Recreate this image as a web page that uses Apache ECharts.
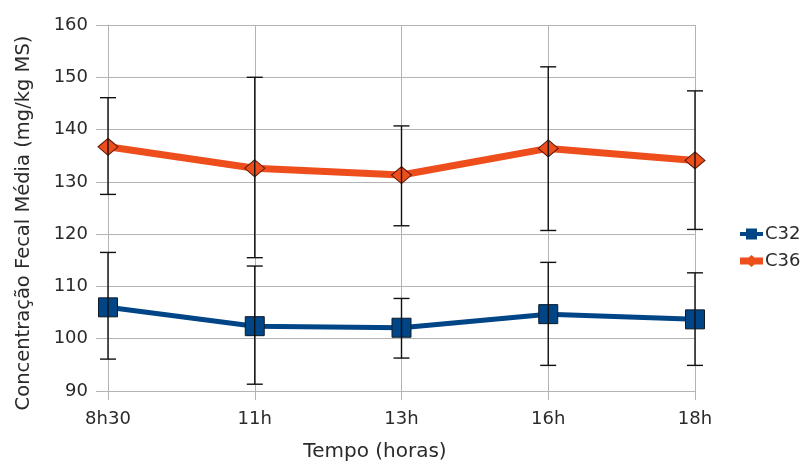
<!DOCTYPE html>
<html>
<head>
<meta charset="utf-8">
<script src="https://cdn.jsdelivr.net/npm/echarts@6/dist/echarts.min.js"></script>
<style>
html,body{margin:0;padding:0;background:#fff;}
#chart{width:803px;height:468px;}
</style>
</head>
<body>
<div id="chart"></div>
<script>
const categories = ['8h30', '11h', '13h', '16h', '18h'];
const yTicks = { min: 90, max: 160, interval: 10 };
const c32 = [106.0, 102.4, 102.1, 104.7, 103.7];
const c32Low = [96.1, 91.3, 96.3, 94.9, 94.9];
const c32High = [116.5, 113.9, 107.7, 114.6, 112.6];
const c36 = [136.7, 132.6, 131.3, 136.4, 134.1];
const c36Low = [127.6, 115.5, 121.6, 120.7, 120.9];
const c36High = [146.1, 150.0, 140.7, 152.0, 147.4];

const FONT = 'DejaVu Sans';
const GRID = '#b3b3b3';
const TXT = '#2a2a2a';
const BLUE = '#004586';
const ORANGE = '#ee4d1c';

function errData(lo, hi) { return categories.map((c, i) => [i, lo[i], hi[i]]); }
function renderErr(params, api) {
  const x = api.value(0);
  const lo = api.coord([x, api.value(1)]);
  const hi = api.coord([x, api.value(2)]);
  const w = 8;
  const st = { stroke: '#111', lineWidth: 1.4 };
  return {
    type: 'group',
    children: [
      { type: 'line', shape: { x1: lo[0], y1: lo[1], x2: hi[0], y2: hi[1] }, style: st },
      { type: 'line', shape: { x1: hi[0] - w, y1: hi[1], x2: hi[0] + w, y2: hi[1] }, style: st },
      { type: 'line', shape: { x1: lo[0] - w, y1: lo[1], x2: lo[0] + w, y2: lo[1] }, style: st }
    ]
  };
}

const iconC32 = 'path://M0,4L23,4L23,8L0,8Z M6,0.5L17,0.5L17,11.5L6,11.5Z';
const iconC36 = 'path://M0,2.5L23,2.5L23,9.5L0,9.5Z M11.5,0L18.5,6L11.5,12L4.5,6Z';

const chart = echarts.init(document.getElementById('chart'), null, { renderer: 'canvas' });
chart.setOption({
  animation: false,
  backgroundColor: '#fff',
  grid: { left: 108, right: 108, top: 25, bottom: 77 },
  legend: {
    orient: 'vertical',
    left: 735,
    top: 219,
    itemWidth: 23,
    itemHeight: 12,
    itemGap: 7,
    data: [
      { name: 'C32', icon: iconC32, itemStyle: { color: BLUE, borderWidth: 0 } },
      { name: 'C36', icon: iconC36, itemStyle: { color: ORANGE, borderWidth: 0 } }
    ],
    textStyle: { fontFamily: FONT, fontSize: 18, color: TXT, lineHeight: 20, padding: [0, 0, 0, -3] }
  },
  xAxis: {
    type: 'category',
    data: categories,
    boundaryGap: false,
    axisLine: { lineStyle: { color: GRID, width: 1 } },
    axisTick: { show: true, length: 9, lineStyle: { color: GRID } },
    axisLabel: { fontFamily: FONT, fontSize: 18, color: TXT, margin: 19 },
    splitLine: { show: true, lineStyle: { color: GRID, width: 1 } }
  },
  yAxis: {
    type: 'value',
    min: yTicks.min,
    max: yTicks.max,
    interval: yTicks.interval,
    axisLine: { show: true, lineStyle: { color: GRID, width: 1 } },
    axisTick: { show: true, length: 12, lineStyle: { color: GRID } },
    axisLabel: { fontFamily: FONT, fontSize: 18, color: TXT, margin: 20 },
    splitLine: { show: true, lineStyle: { color: GRID, width: 1 } }
  },
  graphic: [
    {
      type: 'text',
      x: 375, y: 452,
      style: { text: 'Tempo (horas)', fontFamily: FONT, fontSize: 20, fill: TXT, align: 'center', verticalAlign: 'middle' }
    },
    {
      type: 'text',
      x: 24, y: 223, rotation: Math.PI / 2,
      style: { text: 'Concentração Fecal Média (mg/kg MS)', fontFamily: FONT, fontSize: 19.5, fill: TXT, align: 'center', verticalAlign: 'middle' }
    }
  ],
  series: [
    {
      name: 'C32', type: 'line', data: c32,
      symbol: 'rect', symbolSize: 19,
      lineStyle: { color: BLUE, width: 5 },
      itemStyle: { color: BLUE, borderColor: '#0d1a2a', borderWidth: 1 },
      z: 3
    },
    {
      name: 'C36', type: 'line', data: c36,
      symbol: 'diamond', symbolSize: [20, 17],
      lineStyle: { color: ORANGE, width: 7 },
      itemStyle: { color: ORANGE, borderColor: '#5a1a08', borderWidth: 1 },
      z: 3
    },
    {
      name: 'errC32', type: 'custom', data: errData(c32Low, c32High),
      renderItem: renderErr, encode: { x: 0, y: [1, 2] }, z: 5, silent: true
    },
    {
      name: 'errC36', type: 'custom', data: errData(c36Low, c36High),
      renderItem: renderErr, encode: { x: 0, y: [1, 2] }, z: 5, silent: true
    }
  ]
});
</script>
</body>
</html>
